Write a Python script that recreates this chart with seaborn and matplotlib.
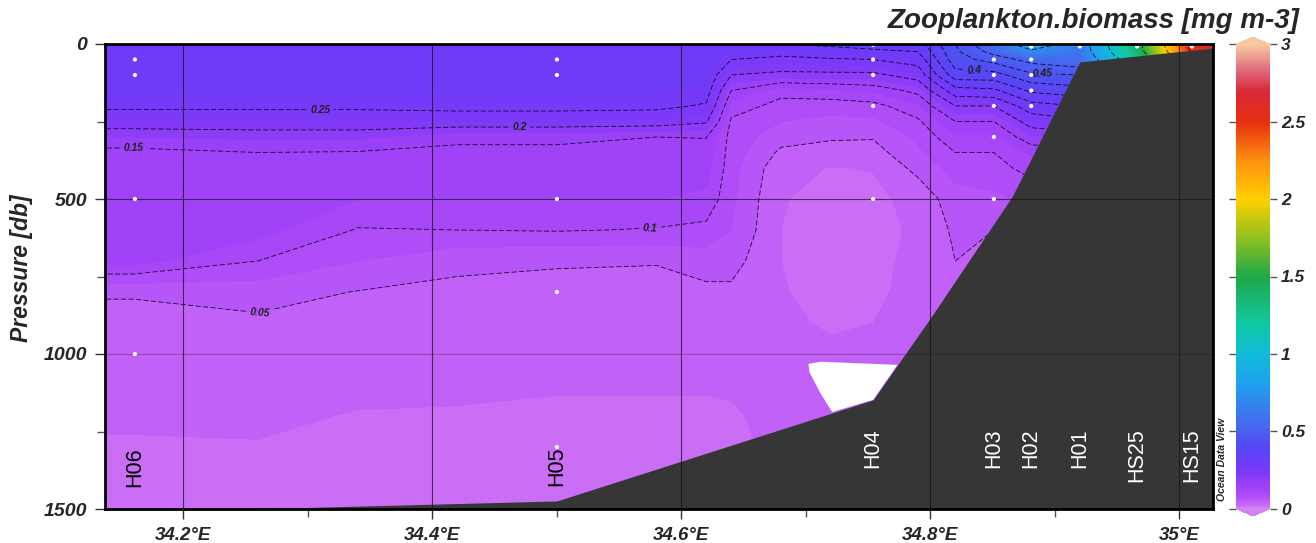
import numpy as np
import matplotlib
matplotlib.use("Agg")
import matplotlib.pyplot as plt
import seaborn as sns
from matplotlib.colors import LinearSegmentedColormap, Normalize
from matplotlib.cm import ScalarMappable

# ---------------- data ----------------
grid_lon = [34.137, 34.16, 34.26, 34.34, 34.42, 34.50, 34.58, 34.62, 34.64, 34.68,
            34.72, 34.754, 34.79, 34.82, 34.851, 34.881, 34.92, 34.966, 35.009, 35.027]
grid_db = [0, 25, 50, 100, 150, 200, 250, 300, 350, 400, 500,
           600, 700, 800, 900, 1000, 1100, 1200, 1300, 1400, 1500]

p_34137 = [0.29, 0.29, 0.29, 0.285, 0.275, 0.258, 0.222, 0.175, 0.14, 0.138, 0.136, 0.135, 0.134, 0.053, 0.04, 0.038, 0.036, 0.028, 0.023, 0.022, 0.021]
p_34160 = [0.29, 0.29, 0.29, 0.285, 0.275, 0.258, 0.222, 0.175, 0.14, 0.138, 0.136, 0.135, 0.134, 0.053, 0.04, 0.038, 0.036, 0.028, 0.023, 0.022, 0.021]
p_34260 = [0.29, 0.29, 0.29, 0.285, 0.275, 0.258, 0.224, 0.18, 0.15, 0.145, 0.14, 0.135, 0.10, 0.06, 0.045, 0.04, 0.034, 0.028, 0.024, 0.022, 0.021]
p_34340 = [0.29, 0.29, 0.29, 0.285, 0.275, 0.258, 0.224, 0.18, 0.148, 0.14, 0.125, 0.098, 0.075, 0.049, 0.042, 0.035, 0.029, 0.024, 0.022, 0.021, 0.02]
p_34420 = [0.29, 0.29, 0.29, 0.285, 0.275, 0.262, 0.225, 0.155, 0.145, 0.14, 0.125, 0.10, 0.055, 0.045, 0.04, 0.033, 0.027, 0.024, 0.022, 0.021, 0.02]
p_34500 = [0.29, 0.29, 0.29, 0.285, 0.275, 0.262, 0.225, 0.155, 0.145, 0.14, 0.125, 0.102, 0.052, 0.044, 0.04, 0.033, 0.026, 0.023, 0.022, 0.021, 0.02]
p_34580 = [0.29, 0.29, 0.29, 0.285, 0.275, 0.26, 0.22, 0.15, 0.14, 0.135, 0.125, 0.098, 0.051, 0.044, 0.04, 0.033, 0.026, 0.023, 0.022, 0.021, 0.02]
p_34620 = [0.295, 0.295, 0.29, 0.285, 0.27, 0.245, 0.205, 0.151, 0.14, 0.135, 0.12, 0.092, 0.062, 0.044, 0.04, 0.033, 0.026, 0.023, 0.022, 0.021, 0.02]
p_34640 = [0.30, 0.28, 0.25, 0.20, 0.15, 0.115, 0.095, 0.09, 0.088, 0.085, 0.08, 0.075, 0.06, 0.045, 0.04, 0.033, 0.027, 0.023, 0.022, 0.021, 0.02]
p_34680 = [0.30, 0.27, 0.235, 0.19, 0.11, 0.09, 0.075, 0.06, 0.045, 0.032, 0.026, 0.025, 0.025, 0.026, 0.028, 0.03, 0.03, 0.03, 0.028, 0.026, 0.025]
p_34720 = [0.31, 0.28, 0.245, 0.19, 0.12, 0.085, 0.068, 0.053, 0.04, 0.024, 0.02, 0.019, 0.019, 0.02, 0.023, 0.028, 0.03, 0.03, 0.03, 0.03, 0.03]
p_34754 = [0.32, 0.29, 0.25, 0.19, 0.13, 0.09, 0.07, 0.052, 0.04, 0.026, 0.02, 0.019, 0.02, 0.022, 0.025, 0.03, 0.032, 0.033, 0.033, 0.033, 0.033]
p_34790 = [0.33, 0.30, 0.27, 0.22, 0.16, 0.12, 0.095, 0.08, 0.07, 0.058, 0.032, 0.028, 0.03, 0.03, 0.03, 0.03, 0.03, 0.03, 0.03, 0.03, 0.03]
p_34820 = [0.45, 0.44, 0.43, 0.38, 0.28, 0.20, 0.15, 0.12, 0.10, 0.085, 0.065, 0.055, 0.05, 0.045, 0.04, 0.04, 0.04, 0.04, 0.04, 0.04, 0.04]
p_34851 = [0.56, 0.52, 0.47, 0.38, 0.29, 0.20, 0.15, 0.12, 0.10, 0.09, 0.07, 0.05, 0.05, 0.045, 0.04, 0.04, 0.04, 0.04, 0.04, 0.04, 0.04]
p_34881 = [0.92, 0.70, 0.52, 0.44, 0.36, 0.28, 0.22, 0.17, 0.13, 0.11, 0.08, 0.06, 0.05, 0.045, 0.04, 0.04, 0.04, 0.04, 0.04, 0.04, 0.04]
p_34920 = [0.62, 0.60, 0.55, 0.45, 0.38, 0.30, 0.24, 0.18, 0.14, 0.12, 0.09, 0.07, 0.06, 0.05, 0.04, 0.04, 0.04, 0.04, 0.04, 0.04, 0.04]
p_34966 = [1.40, 1.35, 1.20, 1.00, 0.80, 0.60, 0.45, 0.35, 0.25, 0.20, 0.15, 0.10, 0.08, 0.06, 0.05, 0.05, 0.05, 0.05, 0.05, 0.05, 0.05]
p_35009 = [2.60, 2.50, 2.30, 2.00, 1.60, 1.20, 0.90, 0.60, 0.40, 0.30, 0.20, 0.15, 0.10, 0.08, 0.06, 0.05, 0.05, 0.05, 0.05, 0.05, 0.05]
p_35027 = [2.65, 2.55, 2.35, 2.00, 1.60, 1.20, 0.90, 0.60, 0.40, 0.30, 0.20, 0.15, 0.10, 0.08, 0.06, 0.05, 0.05, 0.05, 0.05, 0.05, 0.05]

# bottom topography and unresolved gap
bathy_lon = [34.137, 34.30, 34.50, 34.754, 34.80, 34.866, 34.92, 35.027]
bathy_db = [1500, 1495, 1474, 1148, 884, 490, 58, 13]
gap_lon = [34.702, 34.712, 34.7735, 34.754, 34.721, 34.7115, 34.703]
gap_db = [1032, 1025, 1035, 1148, 1187, 1125, 1060]

# stations and sample depths
station_names = ["H06", "H05", "H04", "H03", "H02", "H01", "HS25", "HS15"]
station_lon = [34.161, 34.50, 34.754, 34.851, 34.881, 34.920, 34.966, 35.010]
sample_lon = [34.161] * 4 + [34.50] * 5 + [34.754] * 5 + [34.851] * 5 + [34.881] * 5 + [34.920, 34.966, 35.010]
sample_db = [50, 100, 500, 1000,
             50, 100, 500, 800, 1300,
             3, 50, 100, 200, 500,
             50, 100, 200, 300, 500,
             8, 50, 100, 150, 200,
             8, 8, 8]

x_ticks = [34.2, 34.4, 34.6, 34.8, 35.0]
x_ticklabels = ["34.2°E", "34.4°E", "34.6°E", "34.8°E", "35°E"]
y_ticks = [0, 500, 1000, 1500]
cbar_ticks = [0, 0.5, 1, 1.5, 2, 2.5, 3]
cbar_ticklabels = ["0", "0.5", "1", "1.5", "2", "2.5", "3"]
line_levels = [0.05, 0.1, 0.15, 0.2, 0.25, 0.3, 0.35, 0.4, 0.45, 0.5, 0.75, 1.0, 1.5, 2.0, 2.5]

# ---------------- layout / style ----------------
label_top_db = [1300, 1300, 1240, 1240, 1240, 1240, 1240, 1240]
label_colors = ["black", "black", "white", "white", "white", "white", "white", "white"]
clabel_pos = [(34.31, 213), (34.47, 268), (34.16, 329), (34.575, 597), (34.26, 848),
              (34.835, 90), (34.89, 88)]

sns.set_theme(style="ticks")
plt.rcParams["font.family"] = ["Liberation Sans", "DejaVu Sans"]

cm_vals = [0, 0.0125, 0.0375, 0.0625, 0.09, 0.12, 0.16, 0.22, 0.3, 0.4, 0.5, 0.65, 0.8, 1.0,
           1.2, 1.5, 1.75, 2.0, 2.25, 2.5, 2.7, 2.85, 3.0]
cm_cols = ["#d282f3", "#c96df6", "#c060f8", "#b654f8", "#ac4af8", "#a244f8", "#9840f8",
           "#8038f8", "#6a3cf8", "#5448f4", "#4a62f0", "#3680ee", "#20a0f0", "#10bcd8",
           "#10c8a0", "#20a848", "#90c020", "#ffd000", "#ff9010", "#e83010", "#d82838",
           "#e07080", "#f8c8a0"]
cmap = LinearSegmentedColormap.from_list("odv", list(zip([v / 3 for v in cm_vals], cm_cols)))
cmap.set_over("#f8c8a0")
cmap.set_under("#d282f3")
norm = Normalize(vmin=0, vmax=3)

W, H = 1316, 543
fig = plt.figure(figsize=(W / 100, H / 100), dpi=100)
ax = fig.add_axes([105 / W, 1 - 509 / H, (1213 - 105) / W, (509 - 44) / H])

Z = np.column_stack([p_34137, p_34160, p_34260, p_34340, p_34420, p_34500, p_34580,
                     p_34620, p_34640, p_34680, p_34720, p_34754, p_34790, p_34820,
                     p_34851, p_34881, p_34920, p_34966, p_35009, p_35027])
X, Y = np.meshgrid(grid_lon, grid_db)

levels = np.arange(0, 3.0001, 0.025)
ax.contourf(X, Y, Z, levels=levels, cmap=cmap, norm=norm, zorder=1, antialiased=False)
cs = ax.contour(X, Y, Z, levels=line_levels, colors="black", linewidths=0.6,
                linestyles=[(0, (6, 3))], zorder=2, alpha=0.85)
ax.clabel(cs, manual=clabel_pos, inline=True, inline_spacing=4, fontsize=7.5,
          fmt=lambda v: f"{v:g}")
for t in cs.labelTexts:
    t.set_fontweight("bold")
    t.set_fontstyle("italic")
    t.set_color("#202020")

ax.fill(gap_lon, gap_db, color="white", zorder=2.5, lw=0)
ax.fill_between(bathy_lon, bathy_db, 1600, color="#363636", zorder=3, lw=0)

for xv in x_ticks:
    ax.axvline(xv, color="#151515", lw=0.8, alpha=0.75, zorder=4)
for yv in [500, 1000]:
    ax.axhline(yv, color="#151515", lw=0.8, alpha=0.7 if yv == 500 else 0.3, zorder=4)

sns.scatterplot(x=sample_lon, y=sample_db, ax=ax, color="white", s=9, edgecolor="none",
                legend=False, zorder=5)

for name, lon, top, col in zip(station_names, station_lon, label_top_db, label_colors):
    ax.text(lon, top, name, rotation=90, ha="center", va="top", fontsize=15.5,
            color=col, zorder=6)

ax.set_xlim(34.137, 35.027)
ax.set_ylim(1500, 0)
ax.set_xticks(x_ticks)
ax.set_xticklabels(x_ticklabels)
ax.set_xticks([34.3, 34.5, 34.7, 34.9], minor=True)
ax.set_yticks(y_ticks)
ax.set_yticklabels([str(v) for v in y_ticks])
ax.set_yticks([250, 750, 1250], minor=True)
ax.tick_params(axis="both", which="major", direction="out", length=7, width=1,
               color="#333333", pad=6)
ax.tick_params(axis="both", which="minor", direction="out", length=6, width=1,
               color="#555555", bottom=True, left=True)
for lab in ax.get_xticklabels():
    lab.set_fontsize(13.5); lab.set_fontweight("bold"); lab.set_fontstyle("italic")
for lab in ax.get_yticklabels():
    lab.set_fontsize(14); lab.set_fontweight("bold"); lab.set_fontstyle("italic")
for sp in ax.spines.values():
    sp.set_linewidth(2)
    sp.set_color("black")
    sp.set_zorder(10)
ax.set_xlabel("")
ax.set_ylabel("")

fig.text(22 / W, 1 - 268 / H, "Pressure [db]", rotation=90, ha="center", va="center",
         fontsize=16.5, fontweight="bold", fontstyle="italic")
fig.text(1300 / W, 1 - 21 / H, "Zooplankton.biomass [mg m-3]", ha="right", va="center",
         fontsize=20, fontweight="bold", fontstyle="italic")
fig.text(1222 / W, 1 - 459 / H, "Ocean Data View", rotation=90, ha="center", va="center",
         fontsize=7.5, fontweight="bold", fontstyle="italic")

cax = fig.add_axes([1236 / W, 1 - 516 / H, 34 / W, (516 - 37) / H])
cb = fig.colorbar(ScalarMappable(norm=norm, cmap=cmap), cax=cax, extend="both",
                  extendfrac=0.016, ticks=cbar_ticks)
cb.set_ticklabels(cbar_ticklabels)
cb.outline.set_visible(False)
cax.tick_params(axis="y", left=True, right=True, direction="out", length=5, width=1,
                color="#555555", pad=3)
for lab in cax.get_yticklabels():
    lab.set_fontsize(12.5); lab.set_fontweight("bold"); lab.set_fontstyle("italic")

fig.savefig("out.png", dpi=100)
